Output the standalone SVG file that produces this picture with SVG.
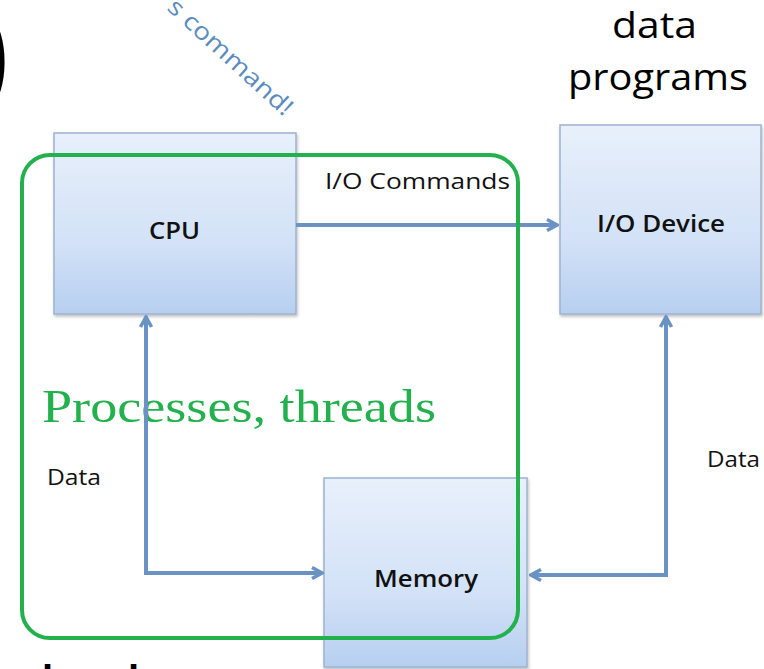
<svg xmlns="http://www.w3.org/2000/svg" width="764" height="669" viewBox="0 0 764 669">
  <style>
    .box { fill: url(#boxGrad); stroke: #9db3cf; stroke-width: 1.5; filter: url(#shadow); }
    .lbl { font-family: "Open Sans", "Liberation Sans", sans-serif; fill: #111111; }
    .nlbl { font-weight: 600; }
    .conn { fill: none; stroke: #6a93c3; stroke-width: 4; stroke-linejoin: miter; }
    .big { font-family: "Open Sans", "Liberation Sans", sans-serif; fill: #000; font-size: 36px; }
  </style>
  <defs>
    <linearGradient id="boxGrad" x1="0" y1="0" x2="0" y2="1">
      <stop offset="0" stop-color="#e8f0fb"/>
      <stop offset="0.6" stop-color="#d3e2f7"/>
      <stop offset="1" stop-color="#b7cff0"/>
    </linearGradient>
    <filter id="shadow" x="-5%" y="-5%" width="115%" height="115%">
      <feDropShadow dx="1" dy="2" stdDeviation="1.5" flood-color="#000" flood-opacity="0.25"/>
    </filter>
    <marker id="arr" viewBox="0 0 14 14" refX="12" refY="7" markerWidth="14" markerHeight="14" markerUnits="userSpaceOnUse" orient="auto-start-reverse">
      <path d="M2,1.5 L12,7 L2,12.5" fill="none" stroke="#6a93c3" stroke-width="3.5" stroke-linejoin="miter"/>
    </marker>
  </defs>
  <rect width="764" height="669" fill="#ffffff"/>

  <!-- partial text at edges -->
  <text x="-28" y="92" font-family="Liberation Sans, sans-serif" font-weight="bold" font-size="115" fill="#000">)</text>
  <text x="166" y="9" transform="rotate(42.5 166 9)" font-family="Open Sans, Liberation Sans, sans-serif" font-size="24" fill="#5b8cc0" textLength="160" lengthAdjust="spacingAndGlyphs">s command!</text>
  <text x="612" y="38" class="big" textLength="85" lengthAdjust="spacingAndGlyphs">data</text>
  <text x="568" y="90" class="big" textLength="180" lengthAdjust="spacingAndGlyphs">programs</text>
  <text x="42" y="694" font-family="Liberation Sans, sans-serif" font-weight="bold" font-size="40" fill="#000">l</text>
  <text x="128" y="694" font-family="Liberation Sans, sans-serif" font-weight="bold" font-size="40" fill="#000">l</text>

  <g id="cpu">
    <rect class="box" x="54" y="133" width="242" height="181"/>
    <text class="lbl nlbl" x="149" y="239" font-size="24" textLength="51" lengthAdjust="spacingAndGlyphs">CPU</text>
  </g>
  <g id="io-device">
    <rect class="box" x="560" y="125" width="201" height="189"/>
    <text class="lbl nlbl" x="597" y="232" font-size="24" textLength="128" lengthAdjust="spacingAndGlyphs">I/O Device</text>
  </g>
  <g id="memory">
    <rect class="box" x="324" y="478" width="203" height="189"/>
    <text class="lbl nlbl" x="374" y="587" font-size="24" textLength="104" lengthAdjust="spacingAndGlyphs">Memory</text>
  </g>

  <g id="labels">
    <text class="lbl" x="325" y="189" font-size="21" textLength="185" lengthAdjust="spacingAndGlyphs">I/O Commands</text>
    <text class="lbl" x="47" y="485" font-size="21" textLength="54" lengthAdjust="spacingAndGlyphs">Data</text>
    <text class="lbl" x="707" y="467" font-size="21" textLength="53" lengthAdjust="spacingAndGlyphs">Data</text>
  </g>

  <g id="process-label">
    <text x="42" y="422" font-family="Liberation Serif, serif" font-size="46" fill="#22b14c" textLength="394" lengthAdjust="spacingAndGlyphs">Processes, threads</text>
  </g>

  <g id="connectors">
    <path class="conn" d="M296,225 L557,225" marker-end="url(#arr)"/>
    <path class="conn" d="M146,317 L146,573 L322,573" marker-start="url(#arr)" marker-end="url(#arr)"/>
    <path class="conn" d="M666,317 L666,575 L531,575" marker-start="url(#arr)" marker-end="url(#arr)"/>
  </g>

  <g id="process-boundary">
    <rect x="22" y="155" width="496" height="483" rx="28" ry="28" fill="none" stroke="#22b14c" stroke-width="4"/>
  </g>
</svg>
